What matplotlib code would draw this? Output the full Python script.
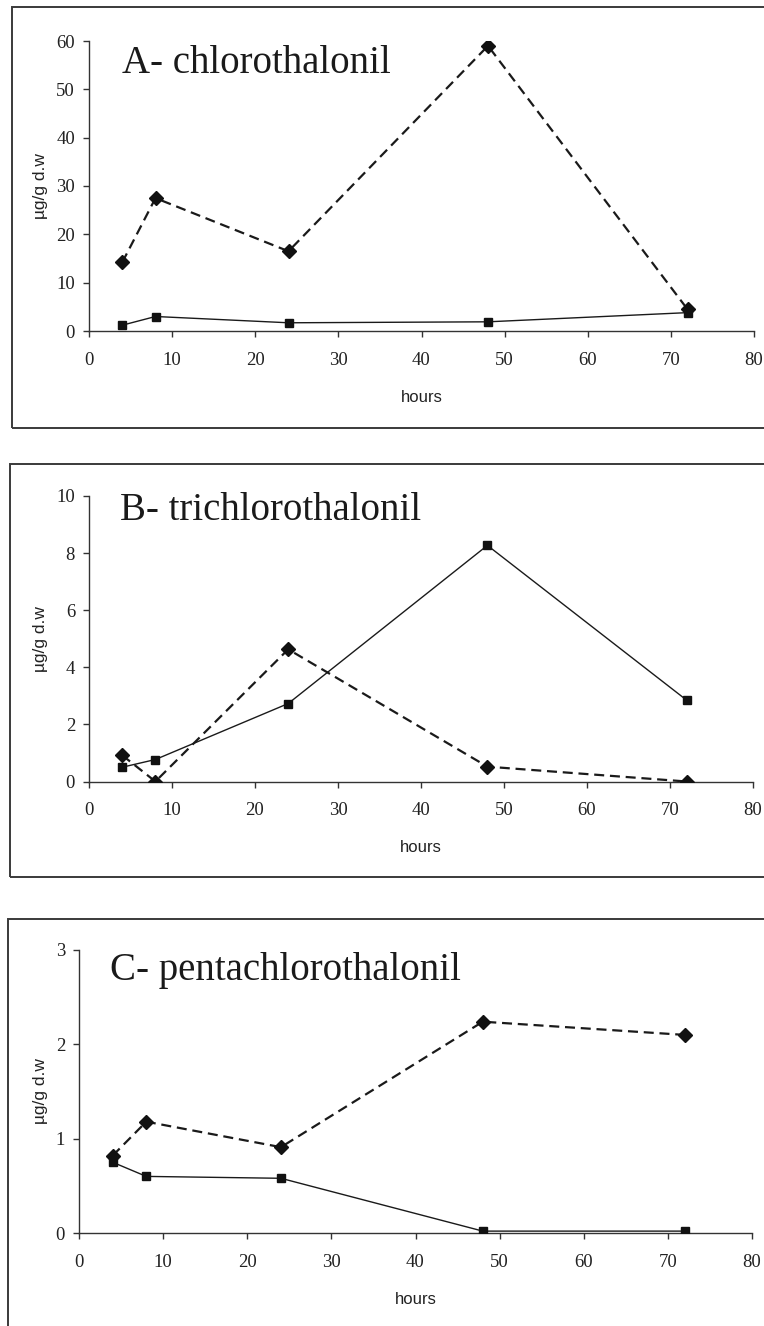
import matplotlib
matplotlib.use("Agg")
import matplotlib.pyplot as plt
from matplotlib.patches import Rectangle

# Sampling times (hours)
hours = [4, 8, 24, 48, 72]

# Panel A - chlorothalonil (µg/g d.w)
chl_dashed = [14.2, 27.5, 16.5, 59.0, 4.5]
chl_solid = [1.2, 3.0, 1.7, 1.9, 3.8]

# Panel B - trichlorothalonil
tri_dashed = [0.92, 0.0, 4.63, 0.52, 0.0]
tri_solid = [0.5, 0.77, 2.73, 8.27, 2.85]

# Panel C - pentachlorothalonil
pen_dashed = [0.82, 1.18, 0.91, 2.24, 2.10]
pen_solid = [0.75, 0.60, 0.58, 0.02, 0.02]

titles = ["A- chlorothalonil", "B- trichlorothalonil", "C- pentachlorothalonil"]
ymax = [60, 10, 3]
ystep = [10, 2, 1]
xticks = [0, 10, 20, 30, 40, 50, 60, 70, 80]

W, H = 764, 1326
fig = plt.figure(figsize=(W / 100, H / 100), dpi=100)


def fx(px):
    return px / W


def fy(py):
    return 1 - py / H


# axes boxes in pixels: left, right, y of zero, y of top value
boxes = [(89, 754, 331, 41), (89, 753, 781.5, 496), (79, 752, 1233, 950)]
# surrounding frames in pixels: left, top, bottom
frames = [(12, 7, 428), (10, 464, 877), (8, 919, 1340)]
# title anchors (left, baseline)
title_pos = [(122, 73), (120, 520), (110, 980)]

series = [(chl_dashed, chl_solid), (tri_dashed, tri_solid), (pen_dashed, pen_solid)]

tick_family = ["Liberation Serif", "DejaVu Serif"]
label_font = ["Liberation Sans Narrow", "Liberation Sans", "DejaVu Sans"]
axis_color = "#333333"

for i in range(3):
    l, r, y0, y1 = boxes[i]
    ax = fig.add_axes([fx(l), fy(y0), fx(r) - fx(l), fy(y1) - fy(y0)])
    dashed, solid = series[i]

    ax.plot(hours, solid, color="#1a1a1a", lw=1.0, ls="-",
            marker="s", ms=5.5, mfc="#111111", mec="#111111", zorder=3)
    ax.plot(hours, dashed, color="#1a1a1a", lw=1.6, ls=(0, (4.5, 2.6)),
            marker="D", ms=7.5, mfc="#111111", mec="#111111", zorder=4)

    ax.set_xlim(0, 80)
    ax.set_ylim(0, ymax[i])
    ax.set_xticks(xticks)
    ax.set_yticks(list(range(0, ymax[i] + 1, ystep[i])))
    for s in ("top", "right"):
        ax.spines[s].set_visible(False)
    for s in ("left", "bottom"):
        ax.spines[s].set_color(axis_color)
        ax.spines[s].set_linewidth(1.0)
    ax.tick_params(axis="x", direction="out", length=4, width=1.0,
                   color=axis_color, pad=11, labelcolor="#222222")
    ax.tick_params(axis="y", direction="out", length=4, width=1.0,
                   color=axis_color, pad=6, labelcolor="#222222")
    for lab in ax.get_xticklabels() + ax.get_yticklabels():
        lab.set_fontfamily(tick_family)
        lab.set_fontsize(13.5)
    ax.patch.set_alpha(0)

    ax.set_xlabel("hours", family=label_font, fontsize=12, color="#222222",
                  labelpad=15)
    ax.set_ylabel("µg/g d.w", family=label_font, fontsize=12.5, color="#222222")
    ax.yaxis.set_label_coords((41 - l) / (r - l), 0.5)
    ax.yaxis.label.set_va("center")

    tx, ty = title_pos[i]
    fig.text(fx(tx), fy(ty), titles[i], family=["Liberation Serif", "DejaVu Serif"],
             fontsize=28, color="#1a1a1a", ha="left", va="baseline")

    fl, ft, fb = frames[i]
    fig.add_artist(Rectangle((fx(fl), fy(fb)), fx(W + 20) - fx(fl), fy(ft) - fy(fb),
                             transform=fig.transFigure, fill=False,
                             edgecolor="#3a3a3a", lw=1.4, clip_on=False))

fig.savefig("out.png", dpi=100)
